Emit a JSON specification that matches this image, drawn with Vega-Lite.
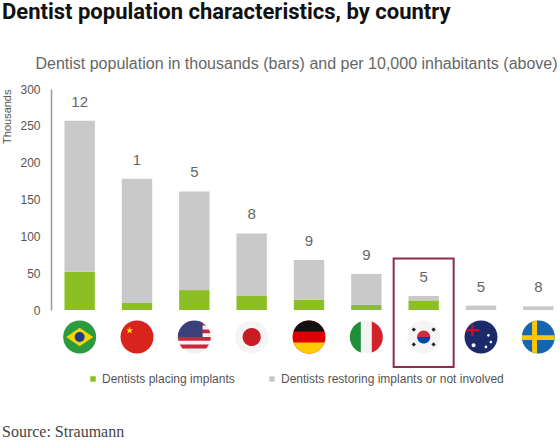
{
  "$schema": "https://vega.github.io/schema/vega-lite/v6.json",
  "background": "white",
  "padding": {"left": 1, "top": 1, "right": 0, "bottom": 0},
  "config": {
    "view": {"stroke": null},
    "font": "Liberation Sans",
    "axisY": {
      "titleFontSize": 11,
      "titleFontWeight": "normal",
      "titleColor": "#555555",
      "titleAnchor": "end",
      "titlePadding": 7,
      "values": [0, 50, 100, 150, 200, 250, 300],
      "ticks": false,
      "grid": false,
      "domainColor": "#999999",
      "domainWidth": 1.5,
      "labelColor": "#555555",
      "labelFontSize": 12,
      "labelPadding": 11
    }
  },
  "title": {
    "text": "Source: Straumann",
    "orient": "bottom",
    "anchor": "start",
    "font": "Liberation Serif",
    "fontSize": 16,
    "fontWeight": "normal",
    "color": "#444444",
    "offset": 39
  },
  "datasets": {
    "dentists": [
      {"country": "Brazil", "placing": 52, "restoring": 205, "per10k": 12},
      {"country": "China", "placing": 10, "restoring": 168, "per10k": 1},
      {"country": "USA", "placing": 27, "restoring": 134, "per10k": 5},
      {"country": "Japan", "placing": 19, "restoring": 85, "per10k": 8},
      {"country": "Germany", "placing": 14, "restoring": 54, "per10k": 9},
      {"country": "Italy", "placing": 7, "restoring": 42, "per10k": 9},
      {"country": "South Korea", "placing": 13, "restoring": 6, "per10k": 5},
      {"country": "Australia", "placing": 0, "restoring": 6, "per10k": 5},
      {"country": "Sweden", "placing": 0, "restoring": 5, "per10k": 8}
    ],
    "flags": [
      {"country": "Brazil", "part": "br-base"},
      {"country": "Brazil", "part": "br-diamond"},
      {"country": "Brazil", "part": "br-globe"},
      {"country": "China", "part": "cn-base"},
      {"country": "China", "part": "cn-star"},
      {"country": "USA", "part": "us-base"},
      {"country": "USA", "part": "us-stripes"},
      {"country": "USA", "part": "us-canton"},
      {"country": "Japan", "part": "jp-base"},
      {"country": "Japan", "part": "jp-dot"},
      {"country": "Germany", "part": "de-base"},
      {"country": "Germany", "part": "de-top"},
      {"country": "Germany", "part": "de-bottom"},
      {"country": "Italy", "part": "it-base"},
      {"country": "Italy", "part": "it-left"},
      {"country": "Italy", "part": "it-right"},
      {"country": "South Korea", "part": "kr-base"},
      {"country": "South Korea", "part": "kr-red"},
      {"country": "South Korea", "part": "kr-blue"},
      {"country": "South Korea", "part": "kr-bars"},
      {"country": "Australia", "part": "au-base"},
      {"country": "Australia", "part": "au-union"},
      {"country": "Australia", "part": "au-stars"},
      {"country": "Sweden", "part": "se-base"},
      {"country": "Sweden", "part": "se-cross"}
    ],
    "highlight": [
      {"country": "South Korea"}
    ]
  },
  "vconcat": [
    {
      "width": 516,
      "height": 221,
      "title": {
        "text": "Dentist population characteristics, by country",
        "anchor": "start",
        "frame": "bounds",
        "font": "Roboto",
        "fontSize": 22,
        "fontWeight": "bold",
        "color": "#111111",
        "offset": 31
      },
      "encoding": {
        "x": {
          "field": "country",
          "type": "nominal",
          "scale": {
            "domain": ["Brazil", "China", "USA", "Japan", "Germany", "Italy", "South Korea", "Australia", "Sweden"],
            "paddingInner": 0.47,
            "paddingOuter": 0.235
          },
          "axis": {
            "orient": "top",
            "labels": false,
            "ticks": false,
            "domain": false,
            "title": "Dentist population in thousands (bars) and per 10,000 inhabitants (above)",
            "titleFont": "Liberation Sans",
            "titleFontSize": 16,
            "titleFontWeight": "normal",
            "titleColor": "#666666",
            "titlePadding": 18,
            "titleX": 245
          }
        }
      },
      "layer": [
        {
          "data": {"name": "dentists"},
          "transform": [
            {"fold": ["placing", "restoring"], "as": ["group", "value"]}
          ],
          "mark": {"type": "bar"},
          "encoding": {
            "y": {
              "field": "value",
              "type": "quantitative",
              "stack": "zero",
              "title": "Thousands",
              "scale": {"domain": [0, 300], "nice": false}
            },
            "color": {
              "field": "group",
              "type": "nominal",
              "scale": {"domain": ["placing", "restoring"], "range": ["#8cbf26", "#c9c9c9"]},
              "legend": {
                "title": null,
                "orient": "none",
                "legendX": 36,
                "legendY": 284,
                "direction": "horizontal",
                "symbolType": "square",
                "symbolSize": 30,
                "labelFontSize": 12,
                "labelColor": "#555555",
                "labelLimit": 0,
                "labelOffset": 3,
                "columnPadding": 31,
                "labelExpr": "datum.value === 'placing' ? 'Dentists placing implants' : 'Dentists restoring implants or not involved'"
              }
            },
            "order": {"field": "group", "sort": "ascending"}
          }
        },
        {
          "data": {"name": "dentists"},
          "transform": [
            {"calculate": "datum.placing + datum.restoring", "as": "total"}
          ],
          "mark": {"type": "text", "dy": -19, "fontSize": 15, "color": "#666666"},
          "encoding": {
            "y": {"field": "total", "type": "quantitative", "title": "Thousands"},
            "text": {"field": "per10k", "type": "nominal"}
          }
        },
        {
          "data": {"name": "dentists"},
          "mark": {"type": "point", "shape": "circle", "filled": true, "color": "#cfcfcf", "opacity": 1, "size": 1000, "yOffset": 27},
          "encoding": {
            "y": {"datum": 0, "type": "quantitative", "title": "Thousands"}
          }
        },
        {
          "data": {"name": "flags"},
          "mark": {"type": "point", "filled": true, "opacity": 1, "size": 1089, "yOffset": 27, "strokeWidth": 0},
          "encoding": {
            "y": {"datum": 0, "type": "quantitative", "title": "Thousands"},
            "fill": {
              "field": "part",
              "type": "nominal",
              "legend": null,
              "scale": {
                "domain": ["br-base", "br-diamond", "br-globe", "cn-base", "cn-star", "us-base", "us-stripes", "us-canton", "jp-base", "jp-dot", "de-base", "de-top", "de-bottom", "it-base", "it-left", "it-right", "kr-base", "kr-red", "kr-blue", "kr-bars", "au-base", "au-union", "au-stars", "se-base", "se-cross"],
                "range": ["#2e9a3e", "#f2d600", "#1e3a8a", "#d9231d", "#ffde00", "#f2f2f2", "#c8283a", "#3b3f7a", "#f5f5f5", "#c81d25", "#dd0000", "#111111", "#ffcc00", "#f4f4f4", "#1f8f3a", "#d2232c", "#f5f5f5", "#cd2e3a", "#0047a0", "#222222", "#1b2a6b", "#c8102e", "#ffffff", "#1466b0", "#fcc800"]
              }
            },
            "shape": {
              "field": "part",
              "type": "nominal",
              "legend": null,
              "scale": {
                "domain": ["br-base", "br-diamond", "br-globe", "cn-base", "cn-star", "us-base", "us-stripes", "us-canton", "jp-base", "jp-dot", "de-base", "de-top", "de-bottom", "it-base", "it-left", "it-right", "kr-base", "kr-red", "kr-blue", "kr-bars", "au-base", "au-union", "au-stars", "se-base", "se-cross"],
                "range": [
                  "M1,0A1,1 0 1 1 -1,0A1,1 0 1 1 1,0Z",
                  "M-0.82,0L0,-0.56L0.82,0L0,0.56Z",
                  "M0.3,0A0.3,0.3 0 1 1 -0.3,0A0.3,0.3 0 1 1 0.3,0Z",
                  "M1,0A1,1 0 1 1 -1,0A1,1 0 1 1 1,0Z",
                  "M-0.45,-0.62L-0.397,-0.473L-0.241,-0.468L-0.364,-0.372L-0.321,-0.222L-0.45,-0.31L-0.579,-0.222L-0.536,-0.372L-0.659,-0.468L-0.503,-0.473Z",
                  "M1,0A1,1 0 1 1 -1,0A1,1 0 1 1 1,0Z",
                  "M-0.392,-0.92L0.392,-0.92L0.724,-0.69L-0.724,-0.69Z M-0.888,-0.46L0.888,-0.46L0.973,-0.23L-0.973,-0.23Z M-1,0L1,0L0.973,0.23L-0.973,0.23Z M-0.888,0.46L0.888,0.46L0.724,0.69L-0.724,0.69Z",
                  "M0.5,0L-1,0A1,1 0 0 1 0.5,-0.866L0.5,0Z",
                  "M1,0A1,1 0 1 1 -1,0A1,1 0 1 1 1,0Z",
                  "M0.55,0A0.55,0.55 0 1 1 -0.55,0A0.55,0.55 0 1 1 0.55,0Z",
                  "M1,0A1,1 0 1 1 -1,0A1,1 0 1 1 1,0Z",
                  "M-0.943,-0.333A1,1 0 0 1 0.943,-0.333Z",
                  "M-0.943,0.333A1,1 0 0 0 0.943,0.333Z",
                  "M1,0A1,1 0 1 1 -1,0A1,1 0 1 1 1,0Z",
                  "M-0.333,-0.943A1,1 0 0 0 -0.333,0.943Z",
                  "M0.333,-0.943A1,1 0 0 1 0.333,0.943Z",
                  "M1,0A1,1 0 1 1 -1,0A1,1 0 1 1 1,0Z",
                  "M-0.4,0A0.4,0.4 0 0 1 0.4,0Z",
                  "M-0.4,0A0.4,0.4 0 0 0 0.4,0Z",
                  "M-0.73,-0.45L-0.6,-0.58L-0.47,-0.45L-0.6,-0.32Z M0.47,-0.45L0.6,-0.58L0.73,-0.45L0.6,-0.32Z M-0.73,0.45L-0.6,0.32L-0.47,0.45L-0.6,0.58Z M0.47,0.45L0.6,0.32L0.73,0.45L0.6,0.58Z",
                  "M1,0A1,1 0 1 1 -1,0A1,1 0 1 1 1,0Z",
                  "M-0.6,-0.75L-0.45,-0.75L-0.45,-0.05L-0.6,-0.05Z M-0.9,-0.48L-0.1,-0.48L-0.1,-0.33L-0.9,-0.33Z",
                  "M0.53,-0.1A0.08,0.08 0 1 1 0.37,-0.1A0.08,0.08 0 1 1 0.53,-0.1Z M0.68,0.3A0.08,0.08 0 1 1 0.52,0.3A0.08,0.08 0 1 1 0.68,0.3Z M0.38,0.6A0.08,0.08 0 1 1 0.22,0.6A0.08,0.08 0 1 1 0.38,0.6Z M-0.33,0.5A0.12,0.12 0 1 1 -0.57,0.5A0.12,0.12 0 1 1 -0.33,0.5Z",
                  "M1,0A1,1 0 1 1 -1,0A1,1 0 1 1 1,0Z",
                  "M-0.38,-0.925L-0.08,-0.997L-0.08,0.997L-0.38,0.925Z M-0.99,-0.1L0.99,-0.1L0.98,0.18L-0.98,0.18Z"
                ]
              }
            }
          }
        },
        {
          "data": {"name": "highlight"},
          "mark": {"type": "rect", "width": 60, "filled": false, "stroke": "#8e2c4d", "strokeWidth": 2, "y2Offset": 57},
          "encoding": {
            "y": {"datum": 70, "type": "quantitative", "title": "Thousands"},
            "y2": {"datum": 0}
          }
        }
      ]
    }
  ]
}
